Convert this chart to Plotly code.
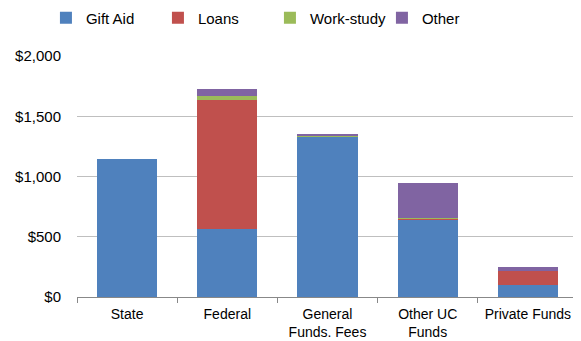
import plotly.graph_objects as go

categories = ["State", "Federal", "General<br>Funds. Fees", "Other UC<br>Funds", "Private Funds"]
gift_aid = [1145, 565, 1328, 643, 100]
loans = [0, 1072, 4, 8, 118]
work_study = [0, 33, 8, 2, 0]
other = [0, 55, 5, 290, 34]
tick_vals = [0, 500, 1000, 1500, 2000]
tick_text = ["$0", "$500", "$1,000", "$1,500", "$2,000"]

series = [("Gift Aid", gift_aid, "#4F81BD"), ("Loans", loans, "#C0504D"),
          ("Work-study", work_study, "#9BBB59"), ("Other", other, "#8064A2")]

fig = go.Figure()
for name, vals, col in series:
    fig.add_trace(go.Bar(x=categories, y=vals, name=name, marker=dict(color=col, line=dict(width=0)),
                         width=0.6))

fig.update_layout(
    barmode="stack",
    width=573, height=333,
    margin=dict(l=69, r=3, t=48, b=44, autoexpand=False),
    plot_bgcolor="white", paper_bgcolor="white",
    font=dict(family="Liberation Sans, Arial, sans-serif", size=15, color="#000000"),
    legend=dict(orientation="h", x=-0.062, xanchor="left", y=1.158, yanchor="middle",
                yref="paper", font=dict(size=15), traceorder="normal",
                itemwidth=30, entrywidth=67, tracegroupgap=0),
    showlegend=True,
)
fig.update_xaxes(showline=True, linecolor="#888888", linewidth=1, ticks="outside",
                 tickcolor="#888888", ticklen=5, tickson="boundaries", showgrid=False,
                 ticklabelstandoff=4, tickfont=dict(size=14))
fig.update_yaxes(range=[0, 2000], tickvals=tick_vals, ticktext=tick_text, showgrid=True,
                 gridcolor="#BFBFBF", gridwidth=1, showline=False, zeroline=False, ticks="",
                 ticklabelstandoff=15)
fig.write_html("out.html")
